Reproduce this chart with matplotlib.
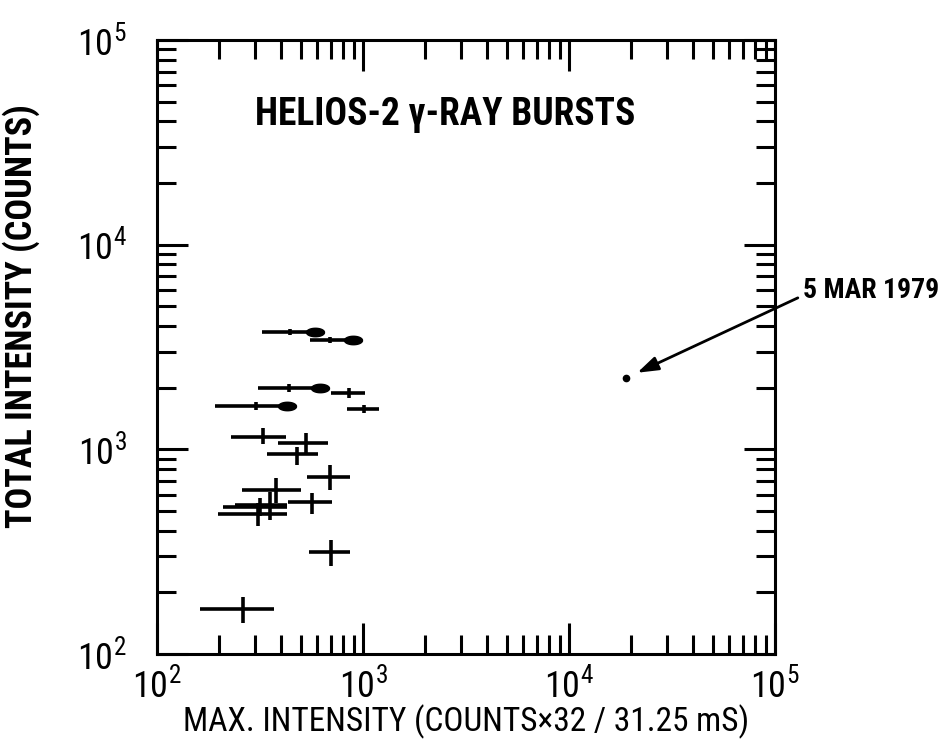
"""Helios-2 gamma-ray bursts: total vs max intensity."""

import numpy as np
import matplotlib
matplotlib.use("Agg")
import matplotlib.pyplot as plt
from matplotlib import font_manager
from matplotlib.path import Path
from matplotlib.ticker import LogLocator, FuncFormatter, NullFormatter

# burst values (max intensity x, total counts y)
x_center = [442, 692, 437, 855, 303, 1012, 327, 529, 478, 692, 378, 565, 354, 316, 309, 700, 261]
x_low = [324, 553, 309, 700, 191, 836, 229, 386, 342, 535, 259, 432, 239, 209, 198, 547, 162]
x_high = [585, 893, 618, 1023, 428, 1197, 423, 676, 605, 865, 500, 708, 428, 428, 428, 865, 370]
y_center = [3740, 3420, 1990, 1884, 1630, 1575, 1148, 1074, 948, 733, 632, 553, 535, 523, 483, 315, 166]
y_low = [3600, 3300, 1900, 1780, 1560, 1510, 1062, 938, 838, 632, 547, 483, 452, 470, 422, 269, 142]
y_high = [3880, 3550, 2090, 1990, 1700, 1650, 1270, 1202, 1025, 838, 724, 612, 618, 580, 547, 361, 190]
# True where max intensity is only a lower limit (arrow)
lower_limit = [True, True, True, False, True, False, False, False, False, False,
               False, False, False, False, False, False, False]

# 5 March 1979 event
mar79_x = 18900
mar79_y = 2230

names = {f.name for f in font_manager.fontManager.ttflist}
font = "DejaVu Sans"
for cand in ["Liberation Sans Narrow", "DejaVu Sans Condensed", "Roboto Condensed"]:
    if cand in names:
        font = cand
        break
narrow = font != "DejaVu Sans"
plt.rcParams["font.family"] = [font, "DejaVu Sans"]
plt.rcParams["mathtext.fontset"] = "custom"
plt.rcParams["mathtext.rm"] = font

fig = plt.figure(figsize=(9.49, 7.53), dpi=100)
ax = fig.add_axes([0.1654, 0.1315, 0.6512, 0.8154])
ax.set_xscale("log")
ax.set_yscale("log")
ax.set_xlim(1e2, 1e5)
ax.set_ylim(1e2, 1e5)

for side in ax.spines.values():
    side.set_linewidth(2.2)

# blob used as the arrow head on lower-limit bars
t = np.linspace(0, 2 * np.pi, 40)
blob = Path(np.column_stack([1.6 * np.cos(t), 0.75 * np.sin(t)]))

for i in range(len(x_center)):
    ax.plot([x_low[i], x_high[i]], [y_center[i]] * 2, color="black", lw=2.6,
            solid_capstyle="butt")
    ax.plot([x_center[i]] * 2, [y_low[i], y_high[i]], color="black", lw=2.6,
            solid_capstyle="butt")
    if lower_limit[i]:
        ax.plot(x_high[i], y_center[i], marker=blob, ms=13, color="black")

ax.plot(mar79_x, mar79_y, "o", color="black", ms=4.5)

ax.annotate("", xy=(mar79_x, mar79_y), xycoords="data",
            xytext=(1.037, 0.58), textcoords="axes fraction",
            arrowprops=dict(arrowstyle="-|>,head_length=0.9,head_width=0.3",
                            mutation_scale=14, color="black", lw=2.0,
                            shrinkA=0, shrinkB=9))
ax.text(1.045, 0.592, "5 MAR 1979", transform=ax.transAxes, ha="left",
        va="center", fontsize=20 if narrow else 15, fontweight="bold", clip_on=False)

ax.text(0.159, 0.878, "HELIOS-2 \u03b3-RAY BURSTS", transform=ax.transAxes,
        ha="left", va="center", fontsize=27 if narrow else 21, fontweight="bold")

# ticks: inward on all four sides, log minors
for axis in (ax.xaxis, ax.yaxis):
    axis.set_major_locator(LogLocator(base=10))
    axis.set_minor_locator(LogLocator(base=10, subs=np.arange(2, 10)))
    axis.set_minor_formatter(NullFormatter())
    axis.set_major_formatter(FuncFormatter(lambda v, p: r"$\mathregular{10^{%d}}$" % round(np.log10(v))))
ax.tick_params(which="both", direction="in", top=True, right=True, width=2.2,
               labelsize=26 if narrow else 21)
ax.tick_params(which="major", length=22, pad=10)
ax.tick_params(which="minor", length=14)
ax.tick_params(axis="y", which="major", pad=22)

ax.set_xlabel("MAX. INTENSITY (COUNTS\u00d732 / 31.25 mS)",
              fontsize=24 if narrow else 18)
ax.xaxis.set_label_coords(0.5, -0.082)
ax.set_ylabel("TOTAL INTENSITY (COUNTS)", fontsize=26 if narrow else 19,
              fontweight="bold")
ax.yaxis.set_label_coords(-0.19, 0.55)

fig.savefig("out.png", dpi=100, facecolor="white")
